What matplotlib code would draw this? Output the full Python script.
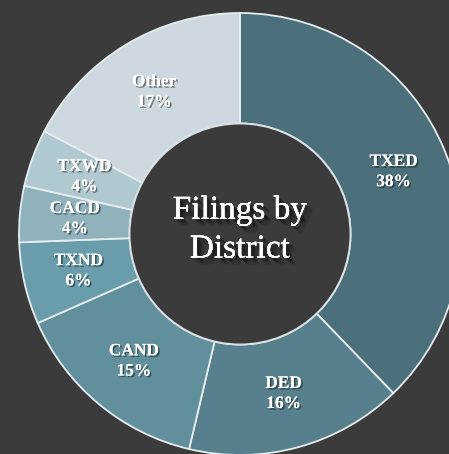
import matplotlib
matplotlib.use("Agg")
import matplotlib.pyplot as plt
import matplotlib.patheffects as pe
from matplotlib.patches import Circle
import numpy as np

districts = ["TXED", "DED", "CAND", "TXND", "CACD", "TXWD", "Other"]
shares = [37.8, 15.9, 14.7, 6.0, 4.1, 4.2, 17.3]
colors = ["#4c707b", "#577f8c", "#618f9c", "#6a9dab", "#8fb2bd", "#b0c8d0", "#cdd9de"]
title = "Filings by\nDistrict"

BG = "#3b3b3b"
R_PX = 221.0
CX, CY = 240.0, 234.0
W, H = 449, 454

fig = plt.figure(figsize=(W / 100, H / 100), dpi=100, facecolor=BG)
ax = fig.add_axes([0, 0, 1, 1])
ax.set_facecolor(BG)

wedges, _ = ax.pie(shares, colors=colors, startangle=90, counterclock=False,
                   radius=1.0,
                   wedgeprops=dict(width=0.5, edgecolor="#e6edef", linewidth=1.3))

ax.set_xlim(-CX / R_PX, (W - CX) / R_PX)
ax.set_ylim((CY - H) / R_PX, CY / R_PX)
ax.set_aspect("auto")
ax.axis("off")

# inner hole outline
ax.add_patch(Circle((0, 0), 0.5, facecolor=BG, edgecolor="#d9e1e4", linewidth=1.4, zorder=3))

label_font = ["Liberation Serif", "DejaVu Serif"]
shadow = [pe.withSimplePatchShadow(offset=(1.2, -1.2), shadow_rgbFace="black", alpha=0.45), pe.Normal()]

for w, name, val in zip(wedges, districts, shares):
    ang = np.deg2rad((w.theta1 + w.theta2) / 2)
    r = 0.75
    ax.text(r * np.cos(ang), r * np.sin(ang), f"{name}\n{val:.0f}%",
            ha="center", va="center", color="white", fontsize=12.5,
            family=label_font, fontweight="bold", linespacing=1.35,
            path_effects=shadow, zorder=5)

title_shadow = [pe.withSimplePatchShadow(offset=(o, -o), shadow_rgbFace="black", alpha=a)
                for o, a in [(5, 0.12), (4, 0.16), (3, 0.22), (2, 0.3)]] + [pe.Normal()]
ax.text(0, 0.02, title, ha="center", va="center", color="white", fontsize=24,
        family=label_font, linespacing=1.35, path_effects=title_shadow, zorder=6)

fig.savefig("out.png", dpi=100, facecolor=BG)
